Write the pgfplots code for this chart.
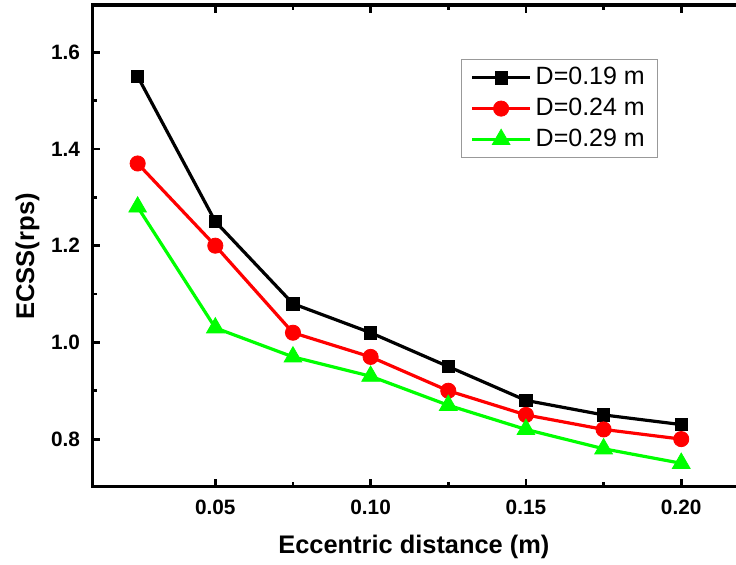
\documentclass[border=0pt]{standalone}
\usepackage{fontspec}
\setmainfont{Liberation Sans}
\usepackage{pgfplots}
\pgfplotsset{compat=1.18}

\begin{document}
\begin{tikzpicture}
% picture is 736 x 565 px at 0.5pt per px; the right side of the box is cut off
\useasboundingbox (0,0) rectangle (368pt,282.5pt);
\clip (0,0) rectangle (368pt,282.5pt);
\begin{axis}[
    at={(46.15pt,39.15pt)}, anchor=south west,
    scale only axis,
    width=333.3pt, height=240.85pt,
    xmin=0.0104, xmax=0.225,
    ymin=0.7016, ymax=1.6978,
    xtick={0.05,0.10,0.15,0.20},
    ytick={0.8,1.0,1.2,1.4,1.6},
    minor x tick num=1,
    minor y tick num=1,
    tick align=inside,
    major tick length=4pt,
    minor tick length=2.3pt,
    every tick/.style={line width=1.4pt, black},
    axis line style={line width=1.7pt},
    xticklabel style={/pgf/number format/fixed, /pgf/number format/fixed zerofill, /pgf/number format/precision=2, yshift=-3.2pt},
    yticklabel style={/pgf/number format/fixed, /pgf/number format/fixed zerofill, /pgf/number format/precision=1, xshift=-2.6pt},
    /pgf/number format/assume math mode=true,
    ticklabel style={font=\bfseries\fontsize{10.4}{12}\selectfont},
    xlabel={Eccentric distance (m)},
    ylabel={ECSS(rps)},
    every axis x label/.style={at={(axis description cs:0.4825,-0.125)}, anchor=center, font=\bfseries\fontsize{12.7}{14}\selectfont},
    every axis y label/.style={at={(axis description cs:-0.0972,0.478)}, anchor=center, rotate=90, font=\bfseries\fontsize{12.8}{14}\selectfont},
    legend style={at={(axis description cs:0.553,0.888)}, anchor=north west,
        draw=gray!80, line width=0.6pt, font=\fontsize{12.5}{15}\selectfont,
        row sep=1.2pt, inner xsep=4.5pt, inner ysep=2pt},
    legend cell align=left,
    legend image code/.code={
        \draw[#1] (0pt,0pt) -- (29pt,0pt);
        \draw[#1, mark repeat=2, mark phase=2] plot coordinates {(0pt,0pt) (14.5pt,0pt) (29pt,0pt)};
    },
]
\addplot[black, line width=1.6pt, mark=square*, mark size=3.1pt, mark options={line width=0.4pt}] coordinates {
    (0.025,1.55) (0.05,1.25) (0.075,1.08) (0.10,1.02)
    (0.125,0.95) (0.15,0.88) (0.175,0.85) (0.20,0.83)
};
\addlegendentry{D=0.19 m}
\addplot[red, line width=1.6pt, mark=*, mark size=3.8pt, mark options={line width=0.4pt}] coordinates {
    (0.025,1.37) (0.05,1.20) (0.075,1.02) (0.10,0.97)
    (0.125,0.90) (0.15,0.85) (0.175,0.82) (0.20,0.80)
};
\addlegendentry{D=0.24 m}
\addplot[green, line width=1.6pt, mark=triangle*, mark size=5.1pt, mark options={line width=0.4pt}] coordinates {
    (0.025,1.28) (0.05,1.03) (0.075,0.97) (0.10,0.93)
    (0.125,0.87) (0.15,0.82) (0.175,0.78) (0.20,0.75)
};
\addlegendentry{D=0.29 m}
\end{axis}
\end{tikzpicture}
\end{document}
